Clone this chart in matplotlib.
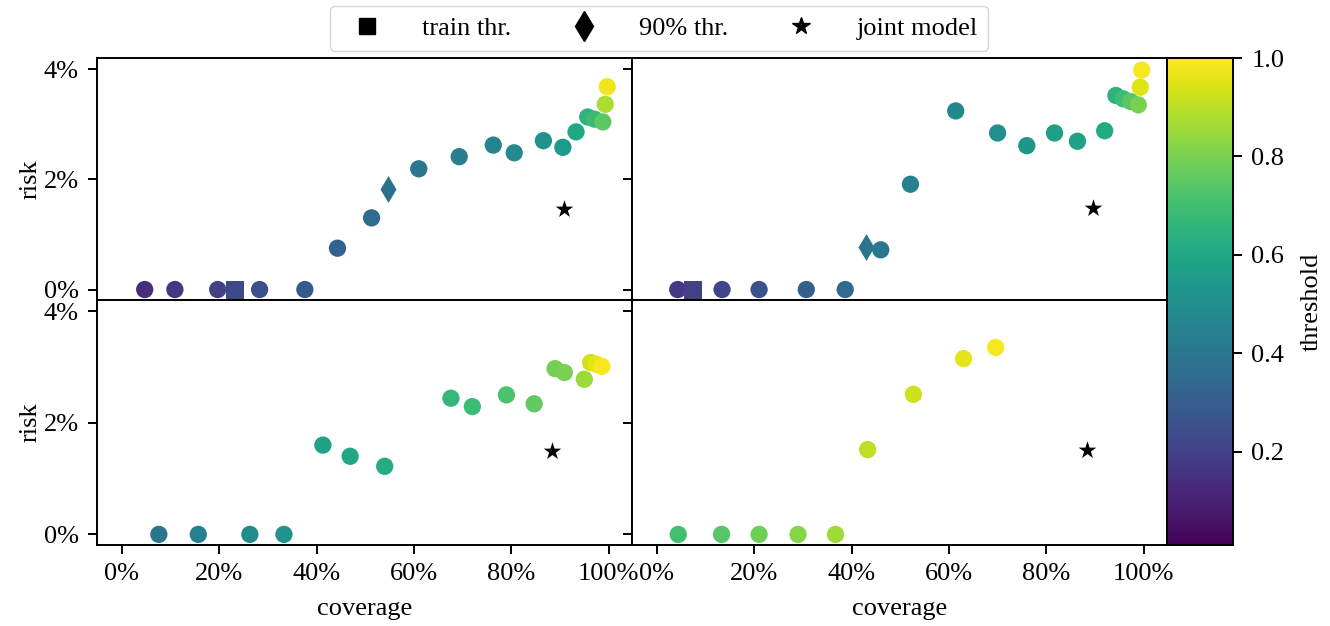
import numpy as np
import matplotlib
matplotlib.use("Agg")
import matplotlib.pyplot as plt
from matplotlib.lines import Line2D
from matplotlib.ticker import PercentFormatter
from matplotlib.colors import Normalize

plt.rcParams['font.family'] = ['Liberation Serif', 'DejaVu Serif']
plt.rcParams['mathtext.fontset'] = 'stix'

# ---- data: coverage (fraction), risk (fraction), threshold ----
tl_cov = [0.047, 0.109, 0.197, 0.283, 0.376, 0.443, 0.513, 0.610, 0.693, 0.763, 0.806,
          0.866, 0.906, 0.933, 0.957, 0.971, 0.988, 0.993, 0.997]
tl_risk = [0.0, 0.0, 0.0, 0.0, 0.0, 0.0075, 0.0130, 0.0219, 0.0241, 0.0262, 0.0248,
           0.0270, 0.0258, 0.0286, 0.0313, 0.0309, 0.0304, 0.0336, 0.0368]
tl_thr = [0.14, 0.17, 0.20, 0.25, 0.29, 0.32, 0.36, 0.40, 0.43, 0.46, 0.48,
          0.51, 0.54, 0.60, 0.65, 0.68, 0.75, 0.88, 0.98]
tl_train = (0.233, 0.0, 0.23)
tl_q90 = (0.547, 0.0183, 0.37)
tl_joint = (0.909, 0.0146)

tr_cov = [0.043, 0.134, 0.210, 0.307, 0.387, 0.460, 0.521, 0.614, 0.700, 0.760, 0.817,
          0.864, 0.920, 0.943, 0.958, 0.973, 0.989, 0.993, 0.996]
tr_risk = [0.0, 0.0, 0.0, 0.0, 0.0, 0.0072, 0.0191, 0.0324, 0.0284, 0.0261, 0.0284,
           0.0269, 0.0288, 0.0352, 0.0346, 0.0341, 0.0335, 0.0367, 0.0398]
tr_thr = [0.18, 0.22, 0.26, 0.31, 0.35, 0.41, 0.44, 0.47, 0.50, 0.53, 0.56,
          0.58, 0.61, 0.65, 0.69, 0.74, 0.80, 0.95, 0.99]
tr_train = (0.075, 0.0, 0.20)
tr_q90 = (0.430, 0.0077, 0.40)
tr_joint = (0.896, 0.0148)

bl_cov = [0.076, 0.157, 0.263, 0.333, 0.413, 0.469, 0.540, 0.676, 0.720, 0.790, 0.847,
          0.890, 0.909, 0.950, 0.963, 0.975, 0.986]
bl_risk = [0.0, 0.0, 0.0, 0.0, 0.0160, 0.0140, 0.0122, 0.0244, 0.0229, 0.0250, 0.0234,
           0.0297, 0.0290, 0.0278, 0.0308, 0.0305, 0.0301]
bl_thr = [0.40, 0.44, 0.48, 0.52, 0.58, 0.60, 0.62, 0.67, 0.69, 0.72, 0.76,
          0.79, 0.80, 0.85, 0.93, 0.96, 0.99]
bl_joint = (0.883, 0.0149)

br_cov = [0.044, 0.133, 0.210, 0.290, 0.367, 0.433, 0.527, 0.630, 0.696]
br_risk = [0.0, 0.0, 0.0, 0.0, 0.0, 0.0152, 0.0251, 0.0315, 0.0335]
br_thr = [0.70, 0.74, 0.78, 0.82, 0.86, 0.90, 0.93, 0.96, 0.99]
br_joint = (0.883, 0.0151)

legend_labels = ["train thr.", "90% thr.", "joint model"]
cbar_label = "threshold"
xlabel = "coverage"
ylabel = "risk"

# ---- figure ----
W, H = 1330, 626
fig = plt.figure(figsize=(W / 100, H / 100), dpi=100)

def frac(x0, y0, x1, y1):
    return [x0 / W, 1 - y1 / H, (x1 - x0) / W, (y1 - y0) / H]

ax_tl = fig.add_axes(frac(97, 58, 632, 300))
ax_tr = fig.add_axes(frac(632, 58, 1167, 300))
ax_bl = fig.add_axes(frac(97, 300, 632, 545))
ax_br = fig.add_axes(frac(632, 300, 1167, 545))
cax = fig.add_axes(frac(1167, 58, 1233, 545))

cmap = plt.get_cmap('viridis')
norm = Normalize(vmin=0.01, vmax=1.0)
S = 155
FS = 19
TL = 6.6
LW = 1.4

panels = [
    (ax_tl, tl_cov, tl_risk, tl_thr, tl_train, tl_q90, tl_joint),
    (ax_tr, tr_cov, tr_risk, tr_thr, tr_train, tr_q90, tr_joint),
    (ax_bl, bl_cov, bl_risk, bl_thr, None, None, bl_joint),
    (ax_br, br_cov, br_risk, br_thr, None, None, br_joint),
]

sc = None
for ax, cov, risk, thr, train, q90, joint in panels:
    sc = ax.scatter(cov, risk, c=thr, cmap=cmap, norm=norm, s=S, marker='o',
                    linewidths=0, zorder=3)
    if train is not None:
        ax.scatter([train[0]], [train[1]], c=[train[2]], cmap=cmap, norm=norm,
                   s=S, marker='s', linewidths=0, zorder=3)
    if q90 is not None:
        ax.scatter([q90[0]], [q90[1]], c=[q90[2]], cmap=cmap, norm=norm,
                   s=S * 1.2, marker='d', linewidths=0, zorder=3)
    ax.scatter([joint[0]], [joint[1]], c='black', s=S * 1.15, marker='*',
               linewidths=0, zorder=4)
    ax.set_xlim(-0.051, 1.048)
    ax.set_ylim(-0.0019, 0.0420)
    ax.set_xticks([0, 0.2, 0.4, 0.6, 0.8, 1.0])
    ax.set_yticks([0, 0.02, 0.04])
    ax.xaxis.set_major_formatter(PercentFormatter(1.0, decimals=0))
    ax.yaxis.set_major_formatter(PercentFormatter(1.0, decimals=0))
    ax.tick_params(labelsize=FS, width=LW, length=TL, pad=TL)
    for sp in ax.spines.values():
        sp.set_linewidth(LW)

for ax in (ax_tl, ax_tr):
    ax.tick_params(labelbottom=False, bottom=False)
for ax in (ax_tr, ax_br):
    ax.tick_params(labelleft=False)

ax_tl.set_ylabel(ylabel, fontsize=FS, labelpad=1.5)
ax_bl.set_ylabel(ylabel, fontsize=FS, labelpad=1.5)
ax_bl.set_xlabel(xlabel, fontsize=FS, labelpad=9)
ax_br.set_xlabel(xlabel, fontsize=FS, labelpad=9)

cb = fig.colorbar(sc, cax=cax)
cb.set_ticks([0.2, 0.4, 0.6, 0.8, 1.0])
cb.ax.tick_params(labelsize=FS, width=LW, length=TL, pad=TL)
cb.set_label(cbar_label, fontsize=FS, labelpad=12)
cb.outline.set_linewidth(LW)

handles = [
    Line2D([], [], color='black', marker='s', linestyle='none', markersize=12),
    Line2D([], [], color='black', marker='d', linestyle='none', markersize=15),
    Line2D([], [], color='black', marker='*', linestyle='none', markersize=13),
]
fig.legend(handles, legend_labels, loc='upper center', ncol=3,
           bbox_to_anchor=(0.4955, 1 - 6 / H), borderaxespad=0,
           fontsize=FS, frameon=True, handletextpad=1.1, columnspacing=1.75)

fig.savefig("out.png", dpi=100)
